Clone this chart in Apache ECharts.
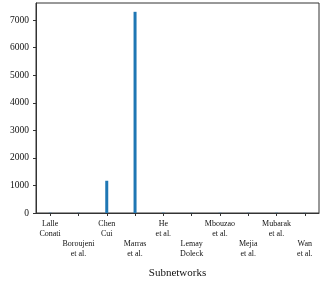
<!DOCTYPE html>
<html><head><meta charset="utf-8">
<script src="https://cdn.jsdelivr.net/npm/echarts@6/dist/echarts.min.js"></script>
<style>html,body{margin:0;padding:0;background:#fff}#c{width:332px;height:285px}</style>
</head><body><div id="c"></div>
<script>
const categories = ["Lalle\nConati","Boroujeni\net al.","Chen\nCui","Marras\net al.","He\net al.","Lemay\nDoleck","Mbouzao\net al.","Mejia\net al.","Mubarak\net al.","Wan\net al."];
const values = [8, 6, 1170, 7300, 10, 5, 7, 6, 8, 5];
const yTicks = [0,1000,2000,3000,4000,5000,6000,7000];
const F = "'Liberation Serif', 'DejaVu Serif', serif";
const chart = echarts.init(document.getElementById('c'));
chart.setOption({
  animation:false,
  grid:{left:36,right:13,top:3,bottom:72,show:true,borderColor:'#333',borderWidth:1,backgroundColor:'transparent'},
  xAxis:{type:'category',data:categories,boundaryGap:true,
    name:'Subnetworks',nameLocation:'middle',nameGap:55,
    nameTextStyle:{fontFamily:F,fontSize:11,color:'#111'},
    axisLine:{show:true,lineStyle:{color:'#333'}},
    axisTick:{show:true,alignWithLabel:true,length:3,lineStyle:{color:'#333'}},
    axisLabel:{interval:0,margin:6,fontFamily:F,fontSize:8,color:'#111',lineHeight:10,
      formatter:(v,i)=> i%2===1 ? '\n\n'+v : v}
  },
  yAxis:{type:'value',min:0,max:7620,interval:1000,
    axisLine:{show:true,lineStyle:{color:'#333'}},
    axisTick:{show:true,length:3,lineStyle:{color:'#333'},customValues:yTicks},
    splitLine:{show:false},
    axisLabel:{margin:7,fontFamily:F,fontSize:9.5,color:'#111',customValues:yTicks,
      formatter:v=>String(v)}
  },
  series:[{type:'bar',data:values,barWidth:3,itemStyle:{color:'#1f77b4'}}]
});
</script></body></html>
